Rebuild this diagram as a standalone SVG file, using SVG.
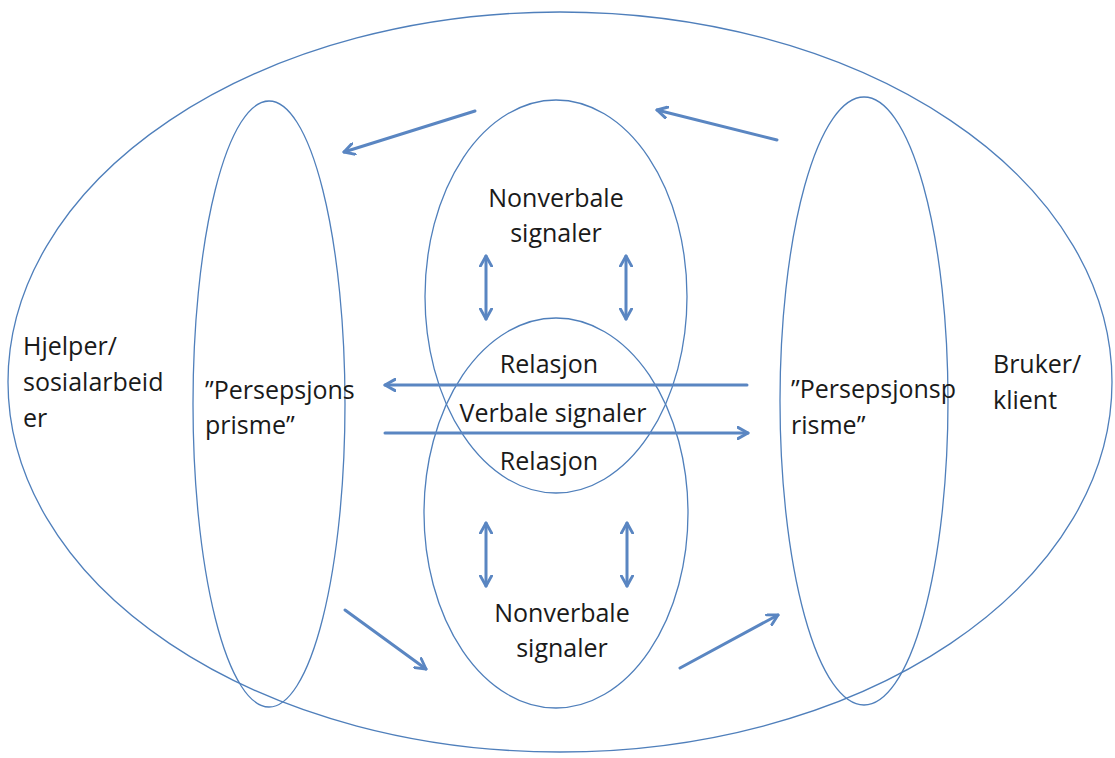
<svg xmlns="http://www.w3.org/2000/svg" width="1115" height="758" viewBox="0 0 1115 758">
<style>
.sh{fill:none;stroke:#4f7fbb;stroke-width:1.3}
.ar{fill:none;stroke:#5a86c2;stroke-width:3;stroke-linecap:round}
.t{font-family:"Open Sans","Liberation Sans",sans-serif;font-size:25px;fill:#1a1a1a}
.c{text-anchor:middle}
</style>
<defs>
<marker id="ah" viewBox="0 0 12 12" refX="10" refY="6" markerWidth="4.5" markerHeight="4.5" markerUnits="strokeWidth" orient="auto-start-reverse">
<path d="M1,1 L10,6 L1,11" fill="none" stroke="#5a86c2" stroke-width="2.6" stroke-linecap="round" stroke-linejoin="round"/>
</marker>
</defs>
<rect width="1115" height="758" fill="#fff"/>
<g id="outer"><ellipse class="sh" cx="560" cy="382" rx="552" ry="370"/></g>
<g id="left-prism"><ellipse class="sh" cx="269" cy="404" rx="76" ry="303"/>
<text class="t" x="205" y="399">”Persepsjons</text><text class="t" x="205" y="434">prisme”</text></g>
<g id="right-prism"><ellipse class="sh" cx="864" cy="401" rx="84" ry="304"/>
<text class="t" x="791" y="398">”Persepsjonsp</text><text class="t" x="791" y="434">risme”</text></g>
<g id="top-nonverbal"><ellipse class="sh" cx="556" cy="296.5" rx="131" ry="196.5"/>
<text class="t c" x="556" y="207">Nonverbale</text><text class="t c" x="556" y="242">signaler</text></g>
<g id="bottom-nonverbal"><ellipse class="sh" cx="556" cy="513" rx="132" ry="195"/>
<text class="t c" x="562" y="622">Nonverbale</text><text class="t c" x="562" y="657">signaler</text></g>
<g id="center">
<text class="t c" x="549" y="373">Relasjon</text>
<text class="t c" x="553" y="422">Verbale signaler</text>
<text class="t c" x="549" y="470">Relasjon</text></g>
<g id="helper"><text class="t" x="23" y="355">Hjelper/</text><text class="t" x="23" y="391">sosialarbeid</text><text class="t" x="23" y="427">er</text></g>
<g id="client"><text class="t" x="993" y="373">Bruker/</text><text class="t" x="993" y="409">klient</text></g>
<g id="connectors">
<line class="ar" x1="475" y1="111" x2="344" y2="152" marker-end="url(#ah)"/>
<line class="ar" x1="777" y1="140" x2="657" y2="110" marker-end="url(#ah)"/>
<line class="ar" x1="747" y1="385" x2="385" y2="385" marker-end="url(#ah)"/>
<line class="ar" x1="385" y1="433" x2="748" y2="433" marker-end="url(#ah)"/>
<line class="ar" x1="486" y1="256" x2="486" y2="319" marker-start="url(#ah)" marker-end="url(#ah)"/>
<line class="ar" x1="626" y1="256" x2="626" y2="319" marker-start="url(#ah)" marker-end="url(#ah)"/>
<line class="ar" x1="486" y1="523" x2="486" y2="586" marker-start="url(#ah)" marker-end="url(#ah)"/>
<line class="ar" x1="627" y1="523" x2="627" y2="586" marker-start="url(#ah)" marker-end="url(#ah)"/>
<line class="ar" x1="345" y1="610" x2="426" y2="669" marker-end="url(#ah)"/>
<line class="ar" x1="680" y1="668" x2="778" y2="615" marker-end="url(#ah)"/>
</g>
</svg>
